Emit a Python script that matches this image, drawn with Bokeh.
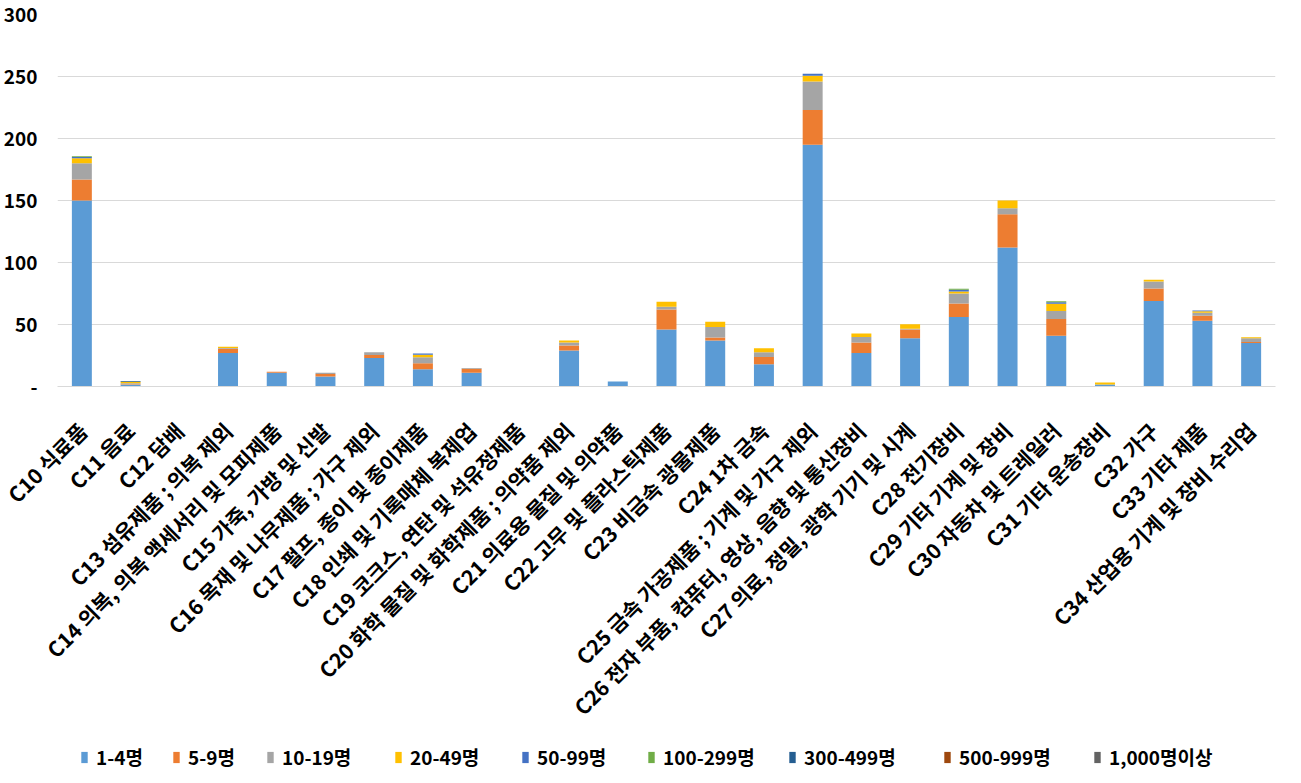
from bokeh.plotting import figure
from bokeh.layouts import column
from bokeh.models import ColumnDataSource, FactorRange, Range1d, FixedTicker, Legend, LegendItem
from bokeh.embed import file_html
from bokeh.resources import INLINE

categories = [
    "C10 식료품", "C11 음료", "C12 담배", "C13 섬유제품 ; 의복 제외",
    "C14 의복, 의복 액세서리 및 모피제품", "C15 가죽, 가방 및 신발",
    "C16 목재 및 나무제품 ; 가구 제외", "C17 펄프, 종이 및 종이제품",
    "C18 인쇄 및 기록매체 복제업", "C19 코크스, 연탄 및 석유정제품",
    "C20 화학 물질 및 화학제품 ; 의약품 제외", "C21 의료용 물질 및 의약품",
    "C22 고무 및 플라스틱제품", "C23 비금속 광물제품", "C24 1차 금속",
    "C25 금속 가공제품 ; 기계 및 가구 제외",
    "C26 전자 부품, 컴퓨터, 영상, 음향 및 통신장비",
    "C27 의료, 정밀, 광학 기기 및 시계", "C28 전기장비", "C29 기타 기계 및 장비",
    "C30 자동차 및 트레일러", "C31 기타 운송장비", "C32 가구", "C33 기타 제품",
    "C34 산업용 기계 및 장비 수리업",
]

series_names = ["1-4명", "5-9명", "10-19명", "20-49명", "50-99명",
                "100-299명", "300-499명", "500-999명", "1,000명이상"]

s_1_4 =     [150, 1.5, 0, 27, 11, 8, 23, 14, 11, 0, 29, 4, 46, 37, 18, 195, 27, 39, 56, 112, 41, 1.6, 69, 53, 35]
s_5_9 =     [17, 0.3, 0, 3.5, 0.8, 2, 2.4, 4.7, 3.4, 0, 4.1, 0, 16, 2.6, 5.8, 28, 8.5, 7, 11, 27, 13.5, 0, 10, 4, 0.8]
s_10_19 =   [13, 0.8, 0, 0.5, 0, 1, 2.3, 4.8, 0.6, 0, 2.4, 0, 2.3, 8.4, 3.9, 23, 4.4, 0.5, 8, 4.7, 6.3, 0, 5.6, 2.4, 3.2]
s_20_49 =   [4, 1.2, 0, 1, 0, 0, 0, 2.1, 0, 0, 1.6, 0, 4, 4.2, 3.2, 4.7, 2.9, 3.7, 1.6, 6.3, 6, 1.6, 1.5, 1.2, 0.8]
s_50_99 =   [1, 0, 0, 0, 0, 0, 0, 1, 0, 0, 0, 0, 0, 0, 0, 1.6, 0, 0, 1.5, 0, 1.1, 0, 0, 0.6, 0]
s_100_299 = [0.7, 0, 0, 0, 0, 0, 0, 0, 0, 0, 0, 0, 0, 0, 0, 0, 0, 0, 0.8, 0, 0.8, 0, 0, 0, 0]
s_300_499 = [0, 0.6, 0, 0, 0, 0, 0, 0, 0, 0, 0, 0, 0, 0, 0, 0, 0, 0, 0, 0, 0, 0, 0, 0, 0]
s_500_999 = [0] * 25
s_1000 =    [0] * 25

colors = ["#5B9BD5", "#ED7D31", "#A5A5A5", "#FFC000", "#4472C4",
          "#70AD47", "#255E91", "#9E480E", "#636363"]

y_ticks = [0, 50, 100, 150, 200, 250, 300]

FONT = "Noto Sans CJK KR"

data = {"cat": categories}
for name, vals in zip(series_names, [s_1_4, s_5_9, s_10_19, s_20_49, s_50_99,
                                     s_100_299, s_300_499, s_500_999, s_1000]):
    data[name] = vals
src = ColumnDataSource(data)

p = figure(x_range=FactorRange(*categories), y_range=Range1d(0, 300),
           width=1285, height=734, output_backend="svg", toolbar_location=None,
           min_border_left=54, min_border_right=10, min_border_top=14,
           min_border_bottom=343)
p.outline_line_color = None
p.background_fill_color = "white"
p.border_fill_color = "white"

p.vbar_stack(series_names, x="cat", width=0.41, color=colors,
             line_color=None, source=src)

p.xgrid.grid_line_color = None
p.ygrid.grid_line_color = "#D9D9D9"
p.ygrid.grid_line_width = 1

p.yaxis.ticker = FixedTicker(ticks=y_ticks)
p.yaxis.major_label_overrides = {0: "-"}
p.yaxis.axis_line_color = None
p.yaxis.major_tick_line_color = None
p.yaxis.minor_tick_line_color = None
p.yaxis.major_tick_out = 0
p.yaxis.major_label_standoff = 20
p.yaxis.major_label_text_font = FONT
p.yaxis.major_label_text_font_style = "bold"
p.yaxis.major_label_text_font_size = "19px"
p.yaxis.major_label_text_color = "#000000"

p.xaxis.axis_line_color = "#D9D9D9"
p.xaxis.axis_line_width = 1
p.xaxis.major_tick_line_color = None
p.xaxis.minor_tick_line_color = None
p.xaxis.major_tick_out = 0
p.xaxis.major_label_orientation = 0.785398
p.xaxis.major_label_standoff = 40
p.xaxis.major_label_text_font = FONT
p.xaxis.major_label_text_font_style = "bold"
p.xaxis.major_label_text_font_size = "21px"
p.xaxis.major_label_text_color = "#000000"

# legend strip below the chart; its bars have zero width and lie off its y range
lg = figure(x_range=FactorRange(*categories), y_range=Range1d(-1001, -1000),
            width=1285, height=39, output_backend="svg", toolbar_location=None,
            x_axis_location=None, y_axis_location=None, min_border=0)
lg.outline_line_color = None
lg.grid.visible = False
lg.background_fill_color = "white"
lg.border_fill_color = "white"
lg_renderers = lg.vbar_stack(series_names, x="cat", width=0, color=colors,
                             line_color=None, source=src)

legend_x = [23, 115, 209, 337, 464, 590, 731, 886, 1036]
for name, r, lx in zip(series_names, lg_renderers, legend_x):
    leg = Legend(items=[LegendItem(label=name, renderers=[r])],
                 orientation="horizontal", location=(lx, 3),
                 label_text_font=FONT, label_text_font_style="bold",
                 label_text_font_size="19px", label_text_color="#000000",
                 glyph_width=8, glyph_height=14, label_standoff=8, spacing=0,
                 padding=0, margin=0, border_line_alpha=0, background_fill_alpha=0)
    lg.add_layout(leg)

layout = column(p, lg, spacing=0)
open("out.html", "w").write(file_html(layout, INLINE))
